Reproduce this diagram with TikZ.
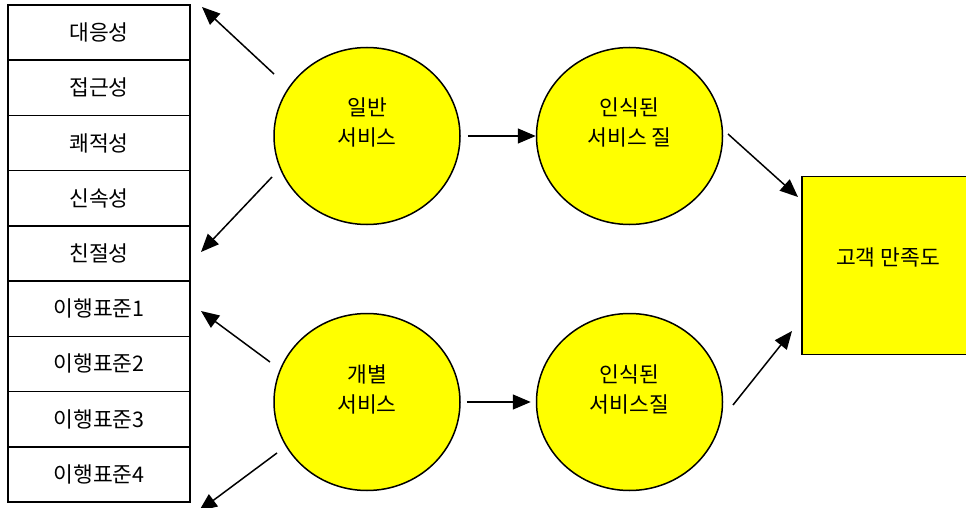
\documentclass[tikz,border=0pt]{standalone}
\usepackage{fontspec}
\setmainfont{Noto Sans CJK KR}
\usetikzlibrary{arrows.meta,shapes.geometric}
\definecolor{yel}{RGB}{255,255,0}
\begin{document}
\begin{tikzpicture}[x=1pt,y=-1pt,
  cell/.style={draw, line width=1.6pt, minimum width=182pt, minimum height=55.2pt, inner sep=0pt, font=\fontsize{21.5}{24}\selectfont},
  bub/.style={draw, ellipse, fill=yel, line width=1.5pt, minimum width=186pt, minimum height=177pt, inner sep=0pt},
  lbl/.style={align=center, inner sep=0pt, font=\fontsize{21.5}{30}\selectfont},
  arr/.style={-{Triangle[length=18pt,width=15pt]}, line width=1.5pt}]
\useasboundingbox (0,0) rectangle (966,508);
\fill[white] (0,0) rectangle (966,508);
% table
\foreach \t [count=\i] in {대응성,접근성,쾌적성,신속성,친절성,이행표준1,이행표준2,이행표준3,이행표준4}{
  \node[cell] (r\i) at (99,{5+55.22*(\i-0.5)}) {\t};
}
% bubbles
\node[bub] (g1) at (367,136) {};
\node[bub] (q1) at (629.5,136) {};
\node[bub] (g2) at (367,402) {};
\node[bub] (q2) at (629.5,402) {};
\node[lbl] (g1t) at (367,122) {일반\\서비스};
\node[lbl] (q1t) at (629.5,122) {인식된\\서비스 질};
\node[lbl] (g2t) at (367,389) {개별\\서비스};
\node[lbl] (q2t) at (629.5,389) {인식된\\서비스질};
% satisfaction box
\node[draw, fill=yel, line width=1.5pt, minimum width=170pt, minimum height=178pt, inner sep=0pt] (cs) at (887,265.5) {};
\node[inner sep=0pt, font=\fontsize{21.5}{24}\selectfont] (cst) at (888,257) {고객 만족도};
% arrow ends
\coordinate (a1s) at (274,74);  \coordinate (a1e) at (202,7);
\coordinate (a2s) at (272,177); \coordinate (a2e) at (201,252);
\coordinate (a3s) at (270,362); \coordinate (a3e) at (201,311);
\coordinate (a4s) at (277,453); \coordinate (a4e) at (199,511);
\coordinate (a5s) at (728,134); \coordinate (a5e) at (798,197);
\coordinate (a6s) at (733,405); \coordinate (a6e) at (792,331);
\draw[arr] (a1s) -- (a1e);
\draw[arr] (a2s) -- (a2e);
\draw[arr] (a3s) -- (a3e);
\draw[arr] (a4s) -- (a4e);
\draw[arr] (a5s) -- (a5e);
\draw[arr] (a6s) -- (a6e);
\draw[arr, shorten <=7pt] (g1) -- (q1);
\draw[arr, shorten <=6pt, shorten >=5pt] (g2) -- (q2);
\end{tikzpicture}
\end{document}
